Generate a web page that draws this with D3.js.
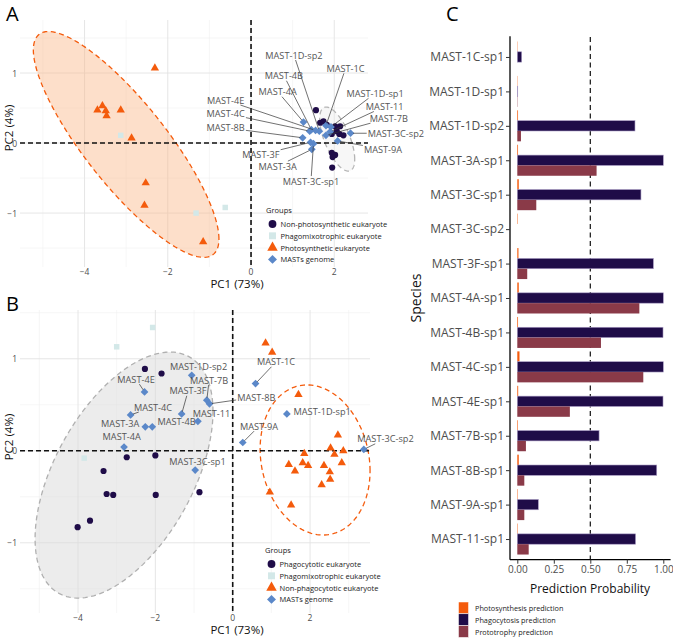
<!DOCTYPE html>
<html><head><meta charset="utf-8">
<script src="https://cdn.jsdelivr.net/npm/d3@7"></script>
<style>
body{margin:0;background:#fff}
svg{display:block}
text{font-family:'Open Sans',sans-serif}
</style>
</head><body>
<svg id="chart" width="673" height="638"></svg>
<script>
// ---------------- DATA ----------------
const mastNames = ["MAST-1C","MAST-1D-sp1","MAST-1D-sp2","MAST-3A","MAST-3C-sp1","MAST-3C-sp2","MAST-3F","MAST-4A","MAST-4B","MAST-4C","MAST-4E","MAST-7B","MAST-8B","MAST-9A","MAST-11"];

// Panel A (PC1, PC2)
const aNonPhotosynthetic = [[1.56,0.47],[1.66,0.29],[1.74,0.31],[1.82,0.26],[2.02,0.24],[2.14,0.24],[2.06,0.17],[2.12,0.13],[2.22,0.11],[1.94,0.13],[1.94,-0.14],[2.02,-0.17],[1.96,-0.20],[1.95,-0.35]];
const aPhagomixotrophic = [[-3.13,0.11],[-1.32,-1.0],[-0.62,-0.92]];
const aPhotosynthetic = [[-2.31,1.07],[-3.57,0.53],[-3.69,0.47],[-3.49,0.46],[-3.47,0.39],[-3.13,0.47],[-2.87,0.07],[-2.53,-0.57],[-2.56,-0.89],[-1.15,-1.41]];
const aMasts = [[1.80,0.25],[1.92,0.23],[1.64,0.17],[1.46,-0.09],[1.50,-0.01],[2.39,0.14],[1.43,0.01],[1.26,0.30],[1.45,0.19],[1.41,0.17],[1.55,0.18],[1.80,0.11],[1.24,0.075],[2.08,0.03],[1.90,0.16]];
const aEllipsePhotoCenter = [-3.0,-0.02];
const aEllipsePhotoCov = [[4.97,-3.006],[-3.006,2.6]];
const aEllipseNonPhotoCenter = [2.07,0.057];
const aEllipseNonPhotoCov = [[0.177,-0.121],[-0.121,0.209]];

// Panel B (PC1, PC2)
const bPhagocytotic = [[-2.27,0.89],[-1.84,0.84],[-2.74,-0.07],[-2.0,-0.05],[-3.34,-0.22],[-3.26,-0.47],[-3.09,-0.48],[-1.99,-0.48],[-0.86,-0.45],[-3.69,-0.76],[-4.01,-0.83]];
const bPhagomixotrophic = [[-2.07,1.34],[-3.0,1.13],[-3.84,-0.08]];
const bNonPhagocytotic = [[0.85,1.17],[1.02,1.07],[1.70,0.61],[2.72,0.17],[2.53,0.03],[2.86,0.0],[1.85,-0.03],[2.63,-0.04],[1.45,-0.15],[1.81,-0.13],[1.95,-0.16],[2.36,-0.16],[2.82,-0.13],[1.61,-0.22],[2.51,-0.23],[2.52,-0.31],[2.30,-0.37],[0.96,-0.45],[1.51,-0.59]];
const bMasts = [[0.59,0.73],[1.40,0.40],[-1.06,0.82],[-2.26,0.26],[-0.97,-0.21],[3.39,0.015],[-1.32,0.40],[-2.81,0.04],[-2.08,0.26],[-2.64,0.39],[-2.28,0.64],[-0.67,0.55],[-0.60,0.51],[0.26,0.09],[-0.90,0.32]];
const bEllipsePhagoCenter = [-2.81,-0.264];
const bEllipsePhagoCov = [[5.29,1.589],[1.589,1.787]];
const bEllipseNonPhagoCenter = [2.13,-0.10];
const bEllipseNonPhagoCov = [[2.02,-0.1685],[-0.1685,0.665]];

const legendA = ["Non-photosynthetic  eukaryote","Phagomixotrophic eukaryote","Photosynthetic eukaryote","MASTs genome"];
const legendB = ["Phagocytotic eukaryote","Phagomixotrophic eukaryote","Non-phagocytotic eukaryote","MASTs genome"];
const pcTicks = [-4,-2,0,2];
const pcMinorTicks = [-5,-3,-1,1,3];
const pc2Ticks = [-1,0,1];
const pc2MinorTicks = [-1.5,-0.5,0.5,1.5];

// Panel C
const species = ["MAST-1C-sp1","MAST-1D-sp1","MAST-1D-sp2","MAST-3A-sp1","MAST-3C-sp1","MAST-3C-sp2","MAST-3F-sp1","MAST-4A-sp1","MAST-4B-sp1","MAST-4C-sp1","MAST-4E-sp1","MAST-7B-sp1","MAST-8B-sp1","MAST-9A-sp1","MAST-11-sp1"];
const photosynthesisPred = [0.002,0.002,0.005,0.005,0.01,0.003,0.008,0.01,0.005,0.015,0.006,0.004,0.01,0.003,0.003];
const phagocytosisPred = [0.03,0.003,0.806,1.0,0.847,0.0,0.932,1.0,0.998,1.0,0.998,0.56,0.955,0.144,0.81];
const prototrophyPred = [0.0,0.002,0.025,0.543,0.13,0.0,0.068,0.836,0.573,0.863,0.36,0.059,0.048,0.048,0.078];
const predSeries = ["Photosynthesis prediction","Phagocytosis prediction","Prototrophy prediction"];
const probTicks = [0,0.25,0.5,0.75,1];

// ---------------- LAYOUT / STYLE ----------------
const COL = {dark:"#1f0c48", light:"#d3e8e8", orange:"#f45b0c", blue:"#5b88c9", maroon:"#8a3a48"};
const svg = d3.select("#chart");

// label layout (data units) for the repelled labels
const aLabelPos = [[2.27,1.067],[2.98,0.71],[1.03,1.257],[0.64,-0.33],[1.44,-0.543],[3.48,0.139],[0.236,-0.165],[0.64,0.733],[0.79,0.961],[-0.61,0.424],[-0.61,0.614],[3.31,0.355],[-0.61,0.219],[3.17,-0.086],[3.21,0.522]];
const bLabelPos = [[1.12,0.967],[2.313,0.424],[-0.884,0.913],[-2.91,0.301],[-0.91,-0.12],[3.95,0.13],[-1.155,0.652],[-2.87,0.16],[-1.452,0.315],[-2.06,0.475],[-2.50,0.779],[-0.61,0.768],[0.612,0.584],[0.68,0.268],[-0.548,0.41]];

const sym = {
  circle: d3.symbol().type(d3.symbolCircle),
  square: d3.symbol().type(d3.symbolSquare),
  triangle: d3.symbol().type(d3.symbolTriangle),
  diamond: d3.symbol().type(d3.symbolSquare)
};

function ellipsePath(x, y, center, cov) {
  const l11 = Math.sqrt(cov[0][0]);
  const l21 = cov[0][1] / l11;
  const l22 = Math.sqrt(cov[1][1] - l21 * l21);
  const pts = d3.range(0, 2 * Math.PI + 0.001, Math.PI / 90).map(t => [
    x(center[0] + l11 * Math.cos(t)),
    y(center[1] + l21 * Math.cos(t) + l22 * Math.sin(t))
  ]);
  return d3.line()(pts) + "Z";
}

function drawPoints(g, x, y, data, shape, color, size) {
  g.selectAll(null).data(data).enter().append("path")
    .attr("d", sym[shape].size(size)())
    .attr("transform", d => `translate(${x(d[0])},${y(d[1])})` + (shape === "diamond" ? " rotate(45)" : ""))
    .attr("fill", color);
}

function drawPCA(cfg) {
  const {x, y, g} = cfg;
  const [x0, x1] = x.range(), [y0, y1] = y.range();
  // grid
  g.selectAll(null).data(pcMinorTicks.filter(v => x(v) >= x0 && x(v) <= x1)).enter().append("line")
    .attr("x1", x).attr("x2", x).attr("y1", y1).attr("y2", y0).attr("stroke", "#f0f0f0").attr("stroke-width", 0.6);
  g.selectAll(null).data(pc2MinorTicks.filter(v => y(v) <= y0 && y(v) >= y1)).enter().append("line")
    .attr("y1", y).attr("y2", y).attr("x1", x0).attr("x2", x1).attr("stroke", "#f0f0f0").attr("stroke-width", 0.6);
  g.selectAll(null).data(pcTicks).enter().append("line")
    .attr("x1", x).attr("x2", x).attr("y1", y1).attr("y2", y0).attr("stroke", "#e3e3e3").attr("stroke-width", 0.9);
  g.selectAll(null).data(pc2Ticks).enter().append("line")
    .attr("y1", y).attr("y2", y).attr("x1", x0).attr("x2", x1).attr("stroke", "#e3e3e3").attr("stroke-width", 0.9);
  // ellipses
  cfg.ellipses.forEach(e => {
    g.append("path").attr("d", ellipsePath(x, y, e.center, e.cov))
      .attr("fill", e.fill).attr("fill-opacity", e.fillOpacity)
      .attr("stroke", e.stroke).attr("stroke-width", 1.3).attr("stroke-dasharray", "5,3.5");
  });
  // zero lines
  g.append("line").attr("x1", x(0)).attr("x2", x(0)).attr("y1", y1).attr("y2", y0)
    .attr("stroke", "#111").attr("stroke-width", 1.6).attr("stroke-dasharray", "5,3");
  g.append("line").attr("y1", y(0)).attr("y2", y(0)).attr("x1", x0).attr("x2", x1)
    .attr("stroke", "#111").attr("stroke-width", 1.6).attr("stroke-dasharray", "5,3");
  // points
  cfg.groups.forEach(gr => drawPoints(g, x, y, gr.data, gr.shape, gr.color, 30));
  // labels with leader lines
  const lab = g.append("g");
  const seg = g.insert("g", () => lab.node());
  mastNames.forEach((name, i) => {
    const lp = cfg.labelPos[i];
    const t = lab.append("text").attr("x", x(lp[0])).attr("y", y(lp[1]))
      .attr("text-anchor", "middle").attr("dominant-baseline", "central")
      .attr("font-size", 9.2).attr("fill", "#555").text(name);
    const b = t.node().getBBox();
    const bx0 = b.x - 1, bx1 = b.x + b.width + 1, by0 = b.y + 1.5, by1 = b.y + b.height - 1.5;
    const px = x(cfg.masts[i][0]), py = y(cfg.masts[i][1]);
    const cx = (bx0 + bx1) / 2, cy = (by0 + by1) / 2;
    const dx = cx - px, dy = cy - py;
    if (px >= bx0 && px <= bx1 && py >= by0 && py <= by1) return;
    const tx1 = (bx0 - px) / dx, tx2 = (bx1 - px) / dx, ty1 = (by0 - py) / dy, ty2 = (by1 - py) / dy;
    const tEnter = Math.max(Math.min(tx1, tx2), Math.min(ty1, ty2));
    const ex = px + tEnter * dx, ey = py + tEnter * dy;
    const len = Math.hypot(ex - px, ey - py);
    if (len < 7) return;
    const ux = (ex - px) / len, uy = (ey - py) / len;
    seg.append("line").attr("x1", px + ux * 2.5).attr("y1", py + uy * 2.5).attr("x2", ex).attr("y2", ey)
      .attr("stroke", "#333").attr("stroke-width", 0.7);
  });
  // axes text
  g.selectAll(null).data(pcTicks).enter().append("text")
    .attr("x", x).attr("y", y0 + 8).attr("text-anchor", "middle")
    .attr("font-size", 8.5).attr("fill", "#4d4d4d").text(d3.format("d"));
  g.selectAll(null).data(pc2Ticks).enter().append("text")
    .attr("x", x0 - 3).attr("y", y).attr("dominant-baseline", "central").attr("text-anchor", "end")
    .attr("font-size", 8.5).attr("fill", "#4d4d4d").text(d3.format("d"));
  g.append("text").attr("x", 237).attr("y", cfg.xTitleY).attr("text-anchor", "middle")
    .attr("font-size", 11.5).attr("fill", "#111").text("PC1 (73%)");
  g.append("text").attr("transform", `translate(12.5,${cfg.yTitleY}) rotate(-90)`).attr("text-anchor", "middle")
    .attr("font-size", 11.5).attr("fill", "#111").text("PC2 (4%)");
  // legend
  const lg = g.append("g").attr("transform", `translate(${cfg.legend[0]},${cfg.legend[1]})`);
  lg.append("text").attr("x", 0).attr("y", 0).attr("dominant-baseline", "central")
    .attr("font-size", 7.5).attr("fill", "#222").text("Groups");
  cfg.groups.forEach((gr, i) => {
    const yy = 14 + i * 11.8;
    lg.append("path").attr("d", sym[gr.shape].size(gr.shape === "diamond" ? 40 : 48)())
      .attr("transform", `translate(6.5,${yy})` + (gr.shape === "diamond" ? " rotate(45)" : ""))
      .attr("fill", gr.color);
    lg.append("text").attr("x", 14.5).attr("y", yy).attr("dominant-baseline", "central")
      .attr("font-size", 7.5).attr("fill", "#222").text(cfg.legendLabels[i]);
  });
}

// ---------- Panel A ----------
const xA = d3.scaleLinear().domain([-5.55, 2.81]).range([20, 368]);
const yA = d3.scaleLinear().domain([-1.77, 1.757]).range([267, 20]);
drawPCA({
  g: svg.append("g"), x: xA, y: yA,
  ellipses: [
    {center: aEllipsePhotoCenter, cov: aEllipsePhotoCov, fill: "#fbb98a", fillOpacity: 0.45, stroke: COL.orange},
    {center: aEllipseNonPhotoCenter, cov: aEllipseNonPhotoCov, fill: "#e6e6e6", fillOpacity: 0.3, stroke: "#b5b5b5"}
  ],
  groups: [
    {data: aNonPhotosynthetic, shape: "circle", color: COL.dark},
    {data: aPhagomixotrophic, shape: "square", color: COL.light},
    {data: aPhotosynthetic, shape: "triangle", color: COL.orange},
    {data: aMasts, shape: "diamond", color: COL.blue}
  ],
  masts: aMasts, labelPos: aLabelPos,
  legend: [266, 210], legendLabels: legendA,
  xTitleY: 288, yTitleY: 128
});

// ---------- Panel B ----------
const xB = d3.scaleLinear().domain([-5.5, 3.55]).range([20, 370]);
const yB = d3.scaleLinear().domain([-1.763, 1.53]).range([613, 310]);
drawPCA({
  g: svg.append("g"), x: xB, y: yB,
  ellipses: [
    {center: bEllipsePhagoCenter, cov: bEllipsePhagoCov, fill: "#d9d9d9", fillOpacity: 0.5, stroke: "#b0b0b0"},
    {center: bEllipseNonPhagoCenter, cov: bEllipseNonPhagoCov, fill: "#ffffff", fillOpacity: 0, stroke: COL.orange}
  ],
  groups: [
    {data: bPhagocytotic, shape: "circle", color: COL.dark},
    {data: bPhagomixotrophic, shape: "square", color: COL.light},
    {data: bNonPhagocytotic, shape: "triangle", color: COL.orange},
    {data: bMasts, shape: "diamond", color: COL.blue}
  ],
  masts: bMasts, labelPos: bLabelPos,
  legend: [265, 550], legendLabels: legendB,
  xTitleY: 634, yTitleY: 437
});

// panel letters
svg.append("text").attr("x", 6).attr("y", 21).attr("font-size", 20).attr("fill", "#000").text("A");
svg.append("text").attr("x", 6).attr("y", 311).attr("font-size", 20).attr("fill", "#000").text("B");
svg.append("text").attr("x", 446).attr("y", 21).attr("font-size", 20).attr("fill", "#000").text("C");

// ---------- Panel C ----------
const gC = svg.append("g");
const xC = d3.scaleLinear().domain([-0.05, 1.05]).range([510, 670.6]);
const yC = d3.scalePoint().domain(species).range([36.3, 559.7]).padding(0.6);
const step = yC.step();
const sub = d3.scaleBand().domain(predSeries).range([-0.45 * step, 0.45 * step]);
const seriesVals = [photosynthesisPred, phagocytosisPred, prototrophyPred];
const seriesCols = [COL.orange, COL.dark, COL.maroon];

gC.append("line").attr("x1", xC(0.5)).attr("x2", xC(0.5)).attr("y1", 37).attr("y2", 559)
  .attr("stroke", "#111").attr("stroke-width", 1.2).attr("stroke-dasharray", "5,3.5");

seriesVals.forEach((vals, si) => {
  gC.selectAll(null).data(species.map((s, i) => ({s, v: vals[i]}))).enter().append("rect")
    .attr("x", xC(0))
    .attr("y", d => yC(d.s) + sub(predSeries[si]))
    .attr("width", d => Math.max(0, xC(d.v) - xC(0)))
    .attr("height", sub.bandwidth())
    .attr("fill", seriesCols[si])
    .attr("stroke", si === 1 ? "#a99cc4" : "none").attr("stroke-width", 0.6);
});

// axes
const axL = gC.append("g").attr("transform", "translate(510,0)")
  .call(d3.axisLeft(yC).tickSize(4).tickPadding(2));
axL.select(".domain").attr("d", "M0,36.3V559.7").attr("stroke", "#000").attr("stroke-width", 1.3);
axL.selectAll(".tick line").attr("stroke", "#333");
axL.selectAll(".tick text").attr("font-size", 12).attr("fill", "#4d4d4d").attr("font-family", "'Open Sans',sans-serif");

const axB = gC.append("g").attr("transform", "translate(0,559.7)")
  .call(d3.axisBottom(xC).tickValues(probTicks).tickFormat(d3.format(".2f")).tickSize(4).tickPadding(2));
axB.select(".domain").attr("d", "M510,0H670.6").attr("stroke", "#000").attr("stroke-width", 1.3);
axB.selectAll(".tick line").attr("stroke", "#333");
axB.selectAll(".tick text").attr("font-size", 10).attr("fill", "#4d4d4d").attr("font-family", "'Open Sans',sans-serif");

gC.append("text").attr("x", 590).attr("y", 593).attr("text-anchor", "middle")
  .attr("font-size", 12).attr("fill", "#111").text("Prediction Probability");
gC.append("text").attr("transform", "translate(421,298) rotate(-90)").attr("text-anchor", "middle")
  .attr("font-size", 14).attr("fill", "#111").text("Species");

// legend C
predSeries.forEach((s, i) => {
  const yy = 602 + i * 11.8;
  gC.append("rect").attr("x", 458.5).attr("y", yy).attr("width", 10).attr("height", 11.8)
    .attr("fill", seriesCols[i]).attr("stroke", "#fff").attr("stroke-width", 0.5);
  gC.append("text").attr("x", 475).attr("y", yy + 5.9).attr("dominant-baseline", "central")
    .attr("font-size", 7.3).attr("fill", "#222").text(s);
});
</script>
</body></html>
